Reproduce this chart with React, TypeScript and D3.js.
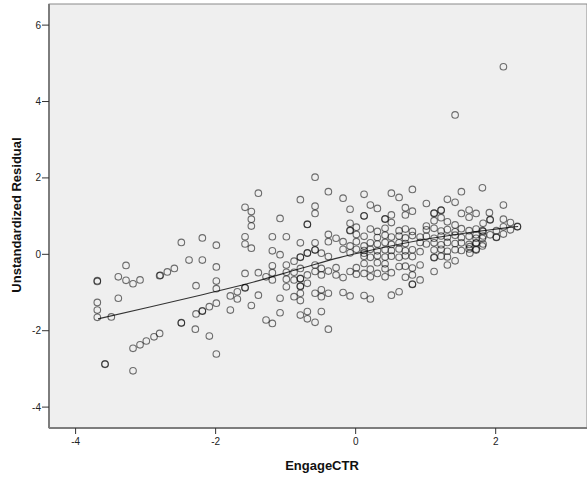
import React, { useEffect, useRef } from "react";
import * as d3 from "d3";

// EngageCTR vs unstandardized residual
const points: [number, number][] = [
  // left cluster
  [-3.69, -0.69], [-3.69, -0.71], [-3.69, -1.26], [-3.69, -1.46], [-3.69, -1.65],
  [-3.49, -1.64], [-3.39, -1.15], [-3.39, -0.59], [-3.28, -0.29], [-3.28, -0.68],
  [-3.18, -0.77], [-3.08, -0.67], [-2.8, -0.56], [-3.58, -2.87], [-3.58, -2.88],
  [-3.18, -2.46], [-3.08, -2.37], [-2.99, -2.27], [-2.88, -2.16], [-2.8, -2.07],
  [-3.18, -3.05], [-2.49, 0.31], [-2.38, -0.15], [-2.79, -0.55], [-2.69, -0.46],
  [-2.59, -0.37], [-2.28, -0.82], [-2.19, 0.43], [-2.28, -1.56], [-2.49, -1.79],
  [-2.49, -1.8], [-2.29, -1.96], [-1.99, 0.24], [-2.19, -0.15], [-1.99, -0.33],
  [-1.99, -0.7], [-1.99, -0.9], [-1.99, -1.28], [-2.19, -1.48], [-2.19, -1.49],
  [-2.09, -1.37], [-2.09, -2.14], [-1.99, -2.61],
  [-1.58, 1.23], [-1.49, 1.12], [-1.49, 0.92], [-1.49, 0.74], [-1.58, 0.46],
  [-1.58, 0.27], [-1.49, 0.16], [-1.39, 1.6], [-1.58, -0.5], [-1.39, -0.48],
  [-1.58, -0.87], [-1.58, -0.88], [-1.69, -0.98], [-1.79, -1.09], [-1.69, -1.17],
  [-1.79, -1.46], [-1.49, -1.34], [-1.39, -1.07],
  // middle
  [-0.58, 2.02], [-0.79, 1.43], [-0.39, 1.64], [-0.18, 1.47], [-0.08, 1.18],
  [0.12, 1.57], [0.12, 1.0], [0.12, 1.01], [-0.58, 1.26], [-0.58, 1.07],
  [-1.08, 0.94], [-0.69, 0.78], [-0.69, 0.79], [-0.08, 0.81], [-0.08, 0.62],
  [-0.08, 0.63], [0.01, 0.71], [0.01, 0.52], [-1.19, 0.46], [-0.99, 0.46],
  [-0.39, 0.52], [-0.39, 0.33], [-0.28, 0.42], [-0.18, 0.33], [-0.79, 0.3],
  [-0.58, 0.3], [-1.19, 0.09], [-1.08, -0.01], [-0.58, 0.11], [-0.58, 0.12],
  [-0.69, 0.03], [-0.69, 0.04], [-0.79, -0.08], [-0.79, -0.07], [-0.49, 0.03],
  [-0.39, -0.06], [-0.18, 0.13], [-0.08, 0.22], [-0.08, 0.04], [0.01, 0.33],
  [0.01, 0.13], [0.12, 0.22], [0.12, 0.03],
  [-0.88, -0.18], [-0.99, -0.28], [-1.19, -0.3], [-1.19, -0.48], [-1.28, -0.59],
  [-1.19, -0.67], [-0.99, -0.47], [-0.99, -0.65], [-0.88, -0.47], [-0.88, -0.67],
  [-0.79, -0.37], [-0.79, -0.63], [-0.79, -0.64], [-0.79, -0.83], [-0.79, -0.84],
  [-0.69, -0.54], [-0.69, -0.76], [-0.58, -0.28], [-0.58, -0.45], [-0.49, -0.37],
  [-0.49, -0.54], [-0.39, -0.44], [-0.28, -0.35], [-0.28, -0.54], [-0.18, -0.61],
  [-0.08, -0.45], [0.01, -0.35], [0.01, -0.52], [0.12, -0.5],
  [-0.99, -0.85], [-0.88, -1.11], [-0.79, -1.02], [-0.79, -1.21], [-0.58, -1.02],
  [-0.49, -0.93], [-0.49, -1.11], [-0.39, -1.02], [-0.18, -1.0], [-0.08, -1.09],
  [0.12, -1.08], [-1.08, -1.15], [-1.08, -1.53], [-1.28, -1.72], [-1.19, -1.81],
  [-0.79, -1.59], [-0.69, -1.5], [-0.69, -1.69], [-0.58, -1.78], [-0.49, -1.5],
  [-0.39, -1.96],
  // right, upper
  [0.51, 1.6], [0.62, 1.49], [0.81, 1.7], [1.51, 1.64], [1.81, 1.74],
  [0.21, 1.29], [0.31, 1.2], [0.71, 1.22], [0.71, 1.03], [0.81, 1.13],
  [1.01, 1.33], [1.31, 1.44], [1.42, 1.36], [1.51, 1.07], [1.62, 1.16],
  [1.62, 0.97], [1.72, 1.07], [1.91, 1.09], [0.42, 0.92], [0.42, 0.93],
  [0.51, 1.03], [0.51, 0.83], [1.12, 1.07], [1.12, 1.08], [1.22, 1.15],
  [1.22, 1.16], [1.22, 0.96], [1.12, 0.88], [1.31, 0.85], [1.42, 0.77],
  [1.01, 0.74], [1.82, 0.81], [1.92, 0.9], [1.92, 0.91],
  // right, dense band
  [0.21, 0.66], [0.31, 0.6], [0.42, 0.68], [0.62, 0.62], [0.71, 0.66],
  [0.81, 0.6], [1.01, 0.64], [1.12, 0.68], [1.22, 0.61], [1.31, 0.65],
  [1.42, 0.59], [1.51, 0.67], [1.62, 0.62], [1.72, 0.66], [1.82, 0.6],
  [0.12, 0.47], [0.31, 0.44], [0.42, 0.5], [0.51, 0.45], [0.62, 0.48],
  [0.71, 0.43], [0.81, 0.49], [0.92, 0.45], [1.01, 0.47], [1.12, 0.42],
  [1.22, 0.48], [1.31, 0.45], [1.42, 0.5], [1.51, 0.44], [1.62, 0.47],
  [1.72, 0.42], [1.82, 0.48],
  [0.21, 0.3], [0.31, 0.27], [0.42, 0.31], [0.51, 0.26], [0.62, 0.3],
  [0.71, 0.28], [0.92, 0.31], [1.01, 0.27], [1.12, 0.3], [1.22, 0.25],
  [1.31, 0.31], [1.42, 0.28], [1.51, 0.3], [1.62, 0.26], [1.72, 0.29],
  [1.82, 0.27],
  [0.12, 0.1], [0.21, 0.13], [0.31, 0.09], [0.42, 0.12], [0.51, 0.1],
  [0.62, 0.14], [0.71, 0.09], [0.81, 0.12], [0.92, 0.07], [1.12, 0.11],
  [1.22, 0.13], [1.31, 0.08], [1.42, 0.12], [1.51, 0.1], [1.62, 0.14],
  [1.72, 0.11],
  [0.12, -0.05], [0.21, -0.08], [0.31, -0.04], [0.42, -0.07], [0.51, -0.05],
  [0.62, -0.08], [0.71, -0.04], [0.81, -0.06], [1.12, -0.08], [1.12, -0.09],
  [1.22, -0.05], [1.31, -0.07], [1.42, -0.17],
  [0.12, -0.24], [0.31, -0.22], [0.42, -0.25], [0.92, -0.28], [1.31, -0.28],
  [0.21, -0.39], [0.62, -0.32], [0.71, -0.31], [0.42, -0.38], [0.81, -0.36],
  [0.51, -0.48], [0.31, -0.5], [1.12, -0.45], [0.81, -0.54],
  [0.21, -0.59], [0.42, -0.59], [0.71, -0.6], [0.92, -0.67], [0.81, -0.78],
  [0.81, -0.79], [0.62, -0.98], [0.51, -1.07], [0.21, -1.17],
  // far right
  [2.11, 4.91], [1.42, 3.65], [2.11, 1.29], [2.11, 0.92], [2.21, 0.83],
  [2.31, 0.72], [2.31, 0.73], [2.01, 0.62], [2.11, 0.72], [2.21, 0.64],
  [2.11, 0.53], [2.01, 0.44], [2.01, 0.45], [1.92, 0.51], [1.81, 0.62],
  [1.81, 0.42], [1.72, 0.51], [1.72, 0.3], [1.81, 0.22], [1.72, 0.13],
  [1.63, 0.2], [1.63, 0.03],
];

// fit line (loess-like)
const fitX = [-3.68, -2.94, -2.22, -1.51, -0.8, -0.22, 0.2, 0.92, 1.63, 2.32];
const fitY = [-1.69, -1.38, -1.07, -0.75, -0.38, -0.08, 0.1, 0.37, 0.57, 0.73];

const xTicks = [-4, -2, 0, 2];
const yTicks = [-4, -2, 0, 2, 4, 6];

const ResidualScatter = () => {
  const svgRef = useRef<SVGSVGElement>(null);

  useEffect(() => {
    const width = 587;
    const height = 479;
    const plot = { left: 49, top: 4, right: 587, bottom: 428 };
    const font = "'Liberation Sans', Arial, sans-serif";

    const svg = d3.select(svgRef.current);
    svg.selectAll("*").remove();
    svg.attr("width", width).attr("height", height);

    const xScale = d3.scaleLinear().domain([-4.38, 3.304]).range([plot.left, plot.right]);
    const yScale = d3.scaleLinear().domain([-4.547, 6.553]).range([plot.bottom, plot.top]);

    svg.append("rect")
      .attr("x", plot.left)
      .attr("y", plot.top)
      .attr("width", plot.right - plot.left)
      .attr("height", plot.bottom - plot.top)
      .attr("fill", "#efefef")
      .attr("stroke", "#8a8a8a")
      .attr("stroke-width", 1);

    // axis lines
    svg.append("line")
      .attr("x1", plot.left).attr("x2", plot.left)
      .attr("y1", plot.top).attr("y2", plot.bottom)
      .attr("stroke", "#7d7d7d").attr("stroke-width", 2);
    svg.append("line")
      .attr("x1", plot.left).attr("x2", plot.right)
      .attr("y1", plot.bottom).attr("y2", plot.bottom)
      .attr("stroke", "#7d7d7d").attr("stroke-width", 2);

    // y ticks
    yTicks.forEach(t => {
      const y = yScale(t);
      svg.append("line")
        .attr("x1", plot.left - 7).attr("x2", plot.left)
        .attr("y1", y).attr("y2", y)
        .attr("stroke", "#333").attr("stroke-width", 1);
      svg.append("text")
        .attr("x", plot.left - 8)
        .attr("y", y)
        .attr("dy", "0.35em")
        .attr("text-anchor", "end")
        .style("font-family", font)
        .style("font-size", "10px")
        .attr("fill", "#222")
        .text(t);
    });

    // x ticks
    xTicks.forEach(t => {
      const x = xScale(t);
      svg.append("line")
        .attr("x1", x).attr("x2", x)
        .attr("y1", plot.bottom).attr("y2", plot.bottom + 6)
        .attr("stroke", "#333").attr("stroke-width", 1);
      svg.append("text")
        .attr("x", x)
        .attr("y", 445)
        .attr("text-anchor", "middle")
        .style("font-family", font)
        .style("font-size", "10px")
        .attr("fill", "#222")
        .text(t);
    });

    // axis titles
    svg.append("text")
      .attr("x", 322)
      .attr("y", 470)
      .attr("text-anchor", "middle")
      .style("font-family", font)
      .style("font-size", "13px")
      .style("font-weight", "bold")
      .attr("fill", "#111")
      .text("EngageCTR");

    svg.append("text")
      .attr("transform", "rotate(-90)")
      .attr("x", -215)
      .attr("y", 21)
      .attr("text-anchor", "middle")
      .style("font-family", font)
      .style("font-size", "13px")
      .style("font-weight", "bold")
      .attr("fill", "#111")
      .text("Unstandardized Residual");

    // fit line
    const fit = fitX.map((x, i) => [x, fitY[i]] as [number, number]);
    svg.append("path")
      .attr("d", d3.line<[number, number]>()
        .x(d => xScale(d[0]))
        .y(d => yScale(d[1]))
        .curve(d3.curveMonotoneX)(fit))
      .attr("fill", "none")
      .attr("stroke", "#333")
      .attr("stroke-width", 1.1);

    // points
    svg.append("g")
      .selectAll("circle")
      .data(points)
      .join("circle")
      .attr("cx", d => xScale(d[0]))
      .attr("cy", d => yScale(d[1]))
      .attr("r", 3.3)
      .attr("fill", "none")
      .attr("stroke", "#000")
      .attr("stroke-opacity", 0.55)
      .attr("stroke-width", 1.1);
  }, []);

  return (
    <div style={{ position: "absolute", left: 0, top: 0 }}>
      <svg ref={svgRef} style={{ display: "block" }}></svg>
    </div>
  );
};

export default function App() {
  return <ResidualScatter />;
}
